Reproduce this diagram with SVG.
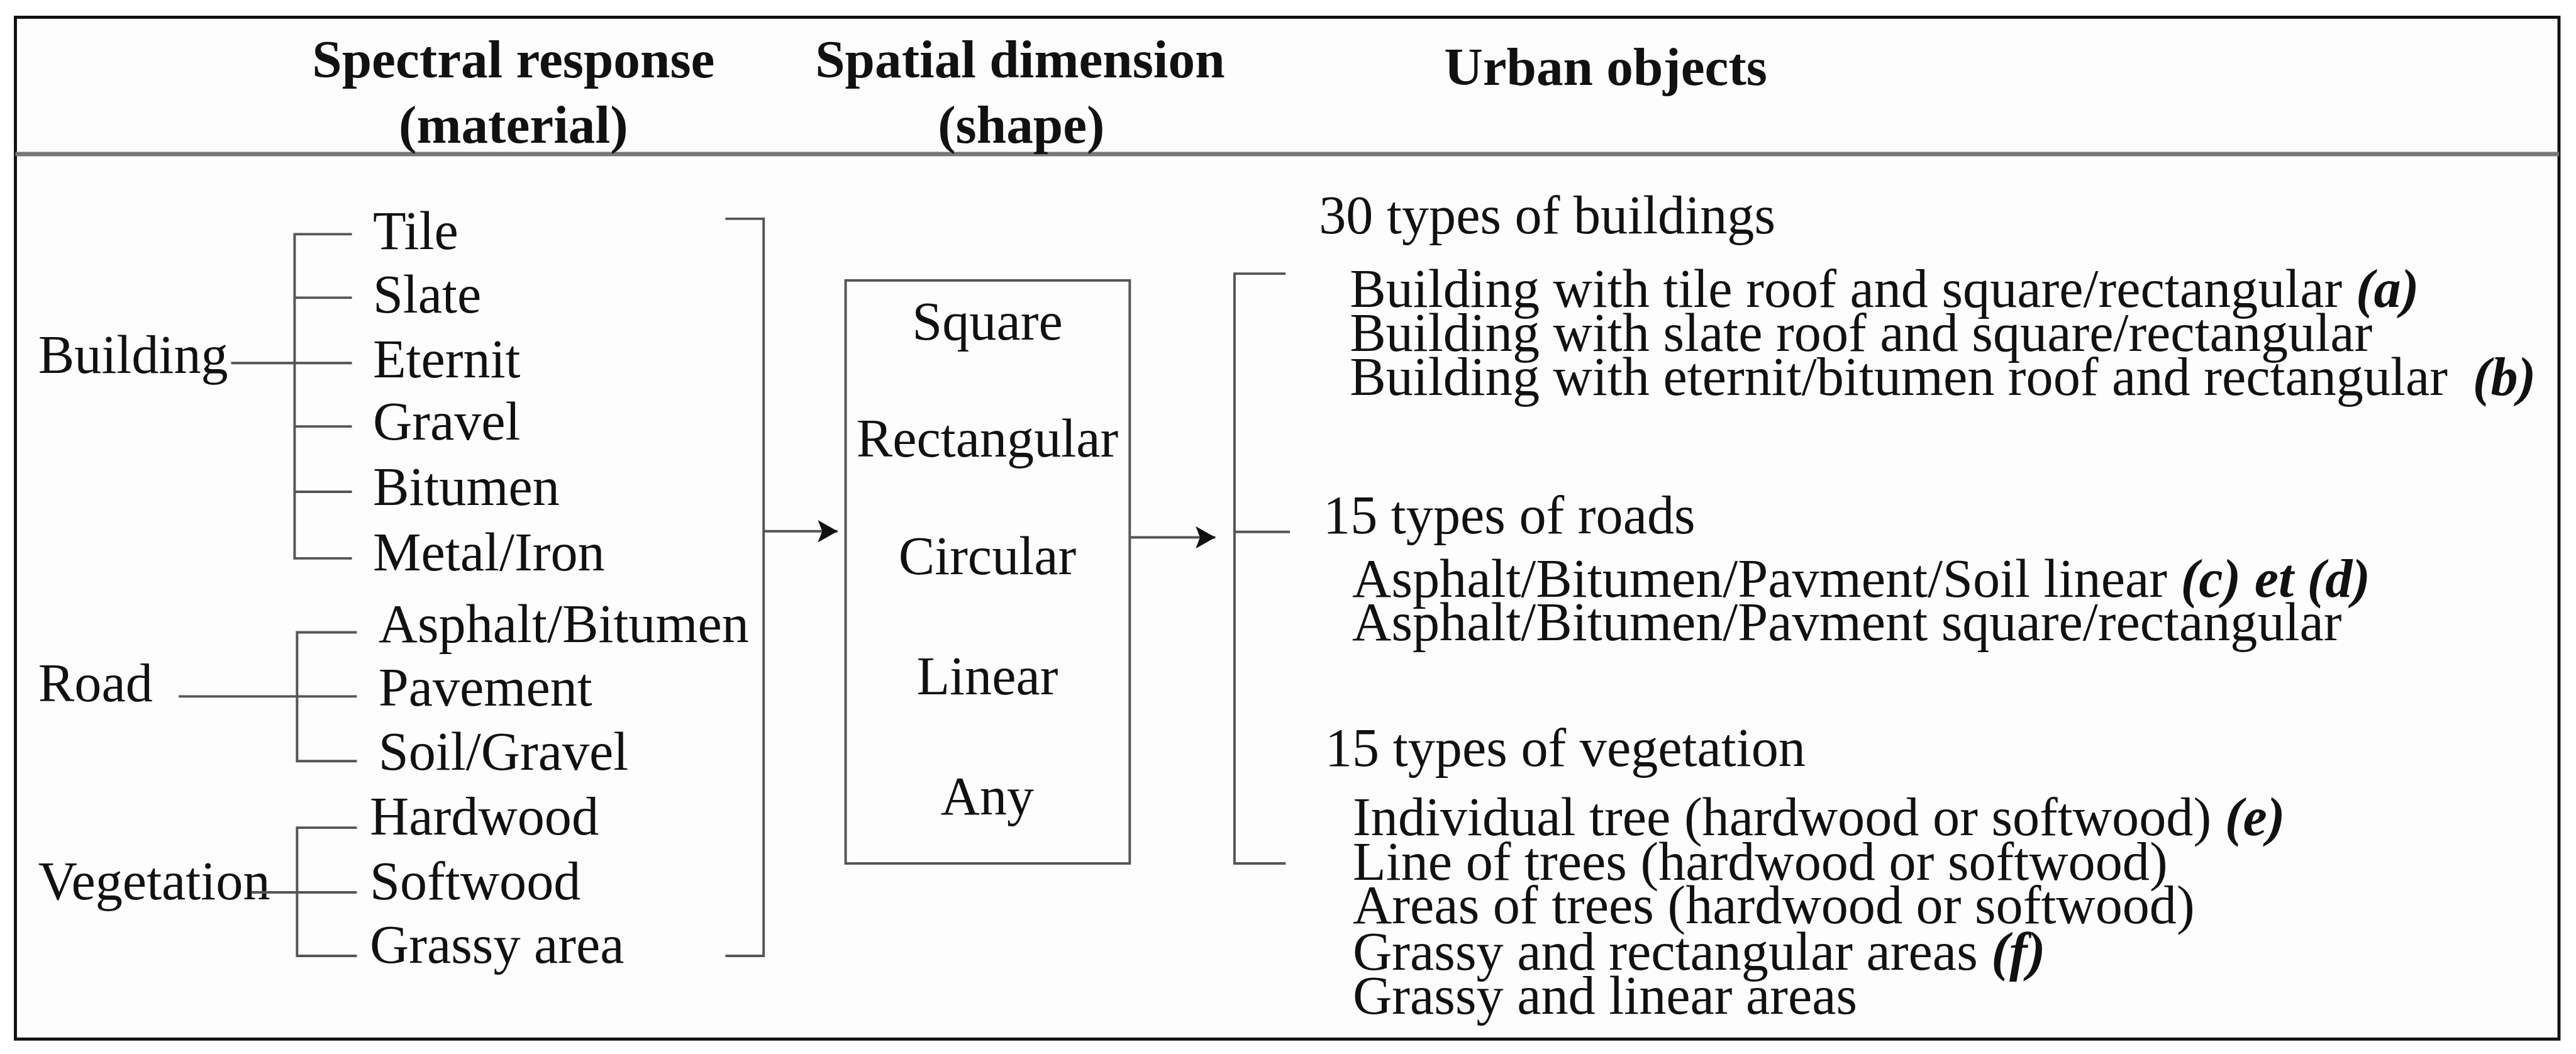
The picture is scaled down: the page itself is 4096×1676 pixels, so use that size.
<svg xmlns="http://www.w3.org/2000/svg" width="4096" height="1676" viewBox="0 0 4096 1676">
<defs>
<style>
.t{font-family:"Liberation Serif","Times New Roman",serif;font-size:88px;fill:#111}
.h{font-family:"Liberation Serif","Times New Roman",serif;font-size:87px;font-weight:bold;fill:#111}
.c{text-anchor:middle}
.bi{font-weight:bold;font-style:italic}
.ln{stroke:#555;stroke-width:4;fill:none}
</style>
<marker id="ah" markerUnits="userSpaceOnUse" markerWidth="34" markerHeight="38" refX="32" refY="18" orient="auto">
<path d="M0,0 L32,18 L0,36 L7,18 z" fill="#111"/>
</marker>
</defs>
<rect width="4096" height="1676" fill="#fff"/>
<g transform="scale(0.98)">
<g id="frame">
<rect x="25" y="28" width="4127" height="1658" fill="#fdfdfd" stroke="#111" stroke-width="5"/>
<line x1="25" y1="250" x2="4152" y2="250" stroke="#777" stroke-width="7"/>
</g>
<g id="headers">
<text class="h c" x="833" y="125">Spectral response</text>
<text class="h c" x="833" y="232">(material)</text>
<text class="h c" x="1655" y="125">Spatial dimension</text>
<text class="h c" x="1657" y="232">(shape)</text>
<text class="h" x="2343" y="138">Urban objects</text>
</g>
<g id="building">
<text class="t" x="62" y="605">Building</text>
<text class="t" x="605" y="404">Tile</text>
<text class="t" x="605" y="507">Slate</text>
<text class="t" x="605" y="612">Eternit</text>
<text class="t" x="605" y="713">Gravel</text>
<text class="t" x="605" y="819">Bitumen</text>
<text class="t" x="605" y="925">Metal/Iron</text>
</g>
<g id="road">
<text class="t" x="62" y="1138">Road</text>
<text class="t" x="614" y="1042">Asphalt/Bitumen</text>
<text class="t" x="614" y="1145">Pavement</text>
<text class="t" x="614" y="1249">Soil/Gravel</text>
</g>
<g id="vegetation">
<text class="t" x="62" y="1459">Vegetation</text>
<text class="t" x="600" y="1354">Hardwood</text>
<text class="t" x="600" y="1459">Softwood</text>
<text class="t" x="600" y="1562">Grassy area</text>
</g>
<g id="shape-box">
<rect x="1372" y="455" width="461" height="946" fill="none" stroke="#555" stroke-width="4"/>
<text class="t c" x="1602" y="551">Square</text>
<text class="t c" x="1602" y="741">Rectangular</text>
<text class="t c" x="1602" y="932">Circular</text>
<text class="t c" x="1602" y="1127">Linear</text>
<text class="t c" x="1602" y="1321">Any</text>
</g>
<g id="urban-objects">
<text class="t" x="2140" y="379">30 types of buildings</text>
<text class="t" x="2190" y="498">Building with tile roof and square/rectangular <tspan class="bi">(a)</tspan></text>
<text class="t" x="2190" y="569">Building with slate roof and square/rectangular</text>
<text class="t" x="2190" y="641">Building with eternit/bitumen roof and rectangular<tspan class="bi" x="4012">(b)</tspan></text>
<text class="t" x="2147" y="865">15 types of roads</text>
<text class="t" x="2194" y="968">Asphalt/Bitumen/Pavment/Soil linear <tspan class="bi">(c) et (d)</tspan></text>
<text class="t" x="2194" y="1039">Asphalt/Bitumen/Pavment square/rectangular</text>
<text class="t" x="2150" y="1243">15 types of vegetation</text>
<text class="t" x="2195" y="1355">Individual tree (hardwood or softwood) <tspan class="bi">(e)</tspan></text>
<text class="t" x="2195" y="1428">Line of trees (hardwood or softwood)</text>
<text class="t" x="2195" y="1498">Areas of trees (hardwood or softwood)</text>
<text class="t" x="2195" y="1573">Grassy and rectangular areas <tspan class="bi">(f)</tspan></text>
<text class="t" x="2195" y="1645">Grassy and linear areas</text>
</g>
<g id="connectors">
<path class="ln" d="M375,589 H571 M571,380 H478 V906 H571 M478,483 H571 M478,692 H571 M478,798 H571"/>
<path class="ln" d="M290,1130 H579 M579,1026 H482 V1235 H579"/>
<path class="ln" d="M408,1448 H579 M579,1343 H482 V1551 H579"/>
<path class="ln" d="M1177,355 H1239 V1551 H1177"/>
<line class="ln" x1="1239" y1="862" x2="1359" y2="862" marker-end="url(#ah)"/>
<line class="ln" x1="1833" y1="872" x2="1972" y2="872" marker-end="url(#ah)"/>
<path class="ln" d="M2086,444 H2003 V1401 H2086 M2003,863 H2093"/>
</g>
</g>
</svg>
